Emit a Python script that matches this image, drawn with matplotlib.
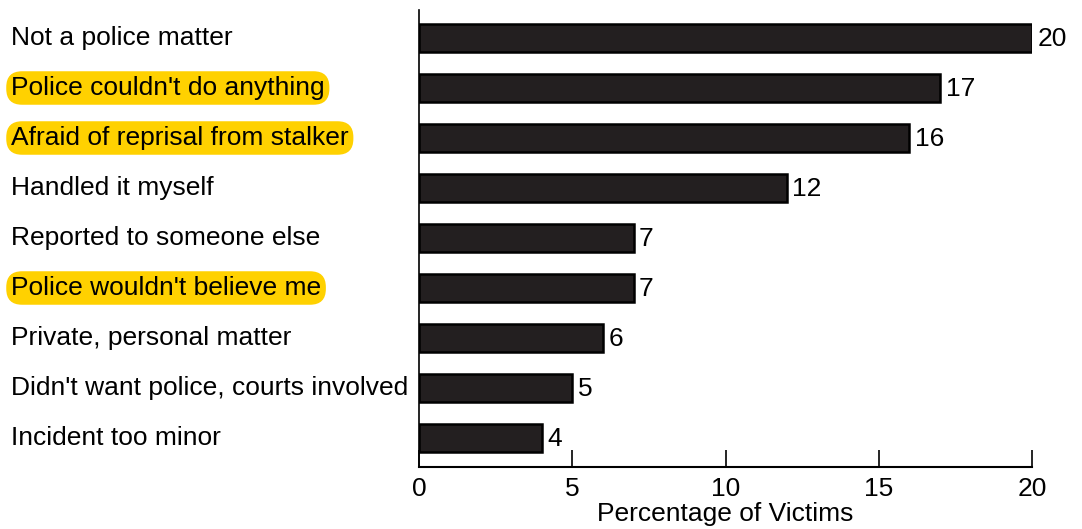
import matplotlib
matplotlib.use("Agg")
import matplotlib.pyplot as plt
import matplotlib.transforms as mtransforms

categories = [
    "Not a police matter",
    "Police couldn't do anything",
    "Afraid of reprisal from stalker",
    "Handled it myself",
    "Reported to someone else",
    "Police wouldn't believe me",
    "Private, personal matter",
    "Didn't want police, courts involved",
    "Incident too minor",
]
values = [20, 17, 16, 12, 7, 7, 6, 5, 4]
highlighted = [False, True, True, False, False, True, False, False, False]
xticks = [0, 5, 10, 15, 20]
xlabel = "Percentage of Victims"

plt.rcParams['font.family'] = ['Liberation Sans', 'DejaVu Sans']
FS = 19

fig = plt.figure(figsize=(10.82, 5.29), dpi=100)
ax = fig.add_axes([419/1082, 62/529, (1032-419)/1082, (467-10)/529])

pos = list(range(len(categories)))
ax.barh(pos, values, height=0.56, color='#231F20', edgecolor='black', linewidth=1.8)
ax.set_ylim(len(categories) - 1 + 0.58, -0.56)
ax.set_xlim(0, 20)

for p, v in zip(pos, values):
    ax.text(v + 0.18, p + 0.02, str(v), va='center', ha='left', fontsize=FS, color='black')

trans = mtransforms.blended_transform_factory(fig.transFigure, ax.transData)
for p, c, h in zip(pos, categories, highlighted):
    kw = {}
    if h:
        kw['bbox'] = dict(boxstyle='round,pad=0.18,rounding_size=0.6', facecolor='#FFD100', edgecolor='none')
    ax.text(11/1082, p, c, transform=trans, ha='left', va='center', fontsize=FS, color='black', **kw)

ax.set_yticks([])
ax.set_xticks(xticks)
ax.set_xticklabels([str(t) for t in xticks], fontsize=FS)
ax.tick_params(axis='x', direction='in', length=12, width=1.2, pad=7)
for s in ['top', 'right']:
    ax.spines[s].set_visible(False)
ax.spines['left'].set_linewidth(1.2)
ax.spines['bottom'].set_linewidth(1.5)
ax.set_xlabel(xlabel, fontsize=FS, labelpad=1)

fig.savefig('out.png', dpi=100)
